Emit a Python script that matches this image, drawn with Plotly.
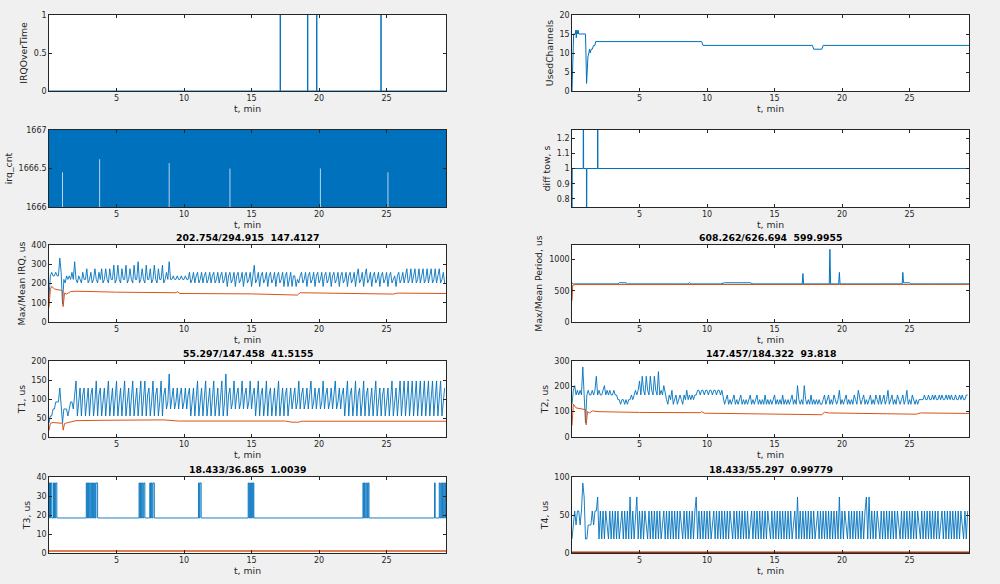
import plotly.graph_objects as go

BLUE = "#0072BD"
ORANGE = "#D95319"
TICK_US = 18.4327      # one timer tick, us
STEP_MIN = 0.1         # grid step of the resampled series, min
SAMPLE_MIN = 1.0 / 60  # one-second sample, min
T_END = 29.4


def ints(s):
    return [int(v) for v in s.split()]


# ---------------- data ----------------
x_ticks = [5, 10, 15, 20, 25]

irq_over_events = [17.12, 19.15, 19.82, 24.58]

irq_cnt_levels = [1666, 1667]
irq_cnt_gap_t = [1.0, 3.75, 8.9, 13.4, 20.1, 25.1]
irq_cnt_gap_top = [1666.45, 1666.62, 1666.57, 1666.5, 1666.5, 1666.45]

used_t = [0.0, 0.05, 0.12, 0.25, 0.28, 0.32, 0.36, 0.40, 0.45, 0.5,
          1.0, 1.08, 1.18, 1.25, 1.3, 1.35, 1.42, 1.5, 1.6, 1.7,
          1.75, 9.6, 9.7, 17.8, 17.9, 18.5, 18.6, 29.4]
used_v = [0, 8, 15, 15, 16, 14, 16, 15, 16, 15,
          15, 2, 9, 10, 11, 10, 11, 11, 12, 12,
          13, 13, 12, 12, 11, 11, 12, 12]

difftow_t = [0.0, 0.02, 0.83, 0.84, 0.86, 1.07, 1.08, 1.10, 1.89, 1.90, 1.92, 29.4]
difftow_v = [0.5, 1.0, 1.0, 2.0, 1.0, 1.0, 0.0, 1.0, 1.0, 2.0, 1.0, 1.0]

maxirq_q = ints("""
7 13 14 13 13 14 13 13 18 14
5 12 11 13 12 13 12 14 12 17
12 11 13 12 11 14 12 12 15 11
12 14 11 12 15 12 11 14 12 15
11 12 15 12 11 15 12 12 16 11
12 16 12 11 15 12 12 16 11 12
15 12 11 16 12 12 17 11 12 15
12 11 16 12 12 15 11 12 16 12
11 15 12 12 16 11 12 14 12 17
12 12 13 12 12 13 12 12 13 12
12 13 12 12 14 11 12 14 11 13
14 11 12 14 11 13 14 11 12 14
11 13 14 11 12 14 11 13 14 11
12 14 10 13 14 11 12 14 10 13
14 11 12 14 10 13 14 11 12 14
10 13 16 11 12 14 10 13 14 11
12 14 10 13 14 11 12 14 10 13
14 11 12 14 10 13 14 10 12 14
10 13 13 10 12 11 13 14 11 12
14 10 13 14 11 12 14 10 13 14
11 12 14 10 13 14 11 12 14 10
13 14 11 12 14 10 13 14 11 12
14 10 13 14 11 12 14 10 13 15
11 12 14 10 13 15 11 12 14 10
13 14 11 12 14 10 13 14 11 12
14 10 13 14 11 12 13 10 13 14
11 12 14 11 13 15 11 12 15 11
13 15 11 12 15 11 13 15 11 12
15 11 13 15 11 12 15 11 13 15
11 12 14 11
""")
maxirq_mean_t = [0.0, 0.1, 0.2, 0.4, 0.6, 0.9, 1.0, 1.05, 1.15, 1.3, 1.6, 2.0,
                 5.0, 9.4, 9.5, 9.7, 15.0, 18.0, 18.4, 18.6, 20.0, 25.5, 25.8, 29.4]
maxirq_mean_v = [75, 170, 185, 172, 168, 165, 160, 80, 150, 145, 158, 160,
                 155, 152, 157, 148, 146, 140, 140, 152, 150, 145, 150, 148]

period_t = [0.0, 0.1, 3.4, 3.5, 4.0, 4.1, 8.6, 8.7, 8.8, 11.0, 11.3, 13.2, 13.4,
            17.05, 17.1, 17.15, 19.05, 19.1, 19.15, 19.75, 19.8, 19.85,
            24.45, 24.5, 24.55, 24.6, 25.0, 25.1, 29.4]
period_q = [34, 33, 33, 34, 34, 33, 33, 34, 33, 33, 34, 34, 33,
            33, 42, 33, 33, 63, 33, 33, 43, 33,
            33, 43, 34, 34, 34, 33, 33]
period_mean_t = [0.0, 0.05, 0.3, 29.4]
period_mean_v = [340, 590, 598, 600]

t1_q = ints("""
2 3 3 4 4 5 5 5 7 5
2 4 4 4 3 4 5 5 4 6
8 3 5 7 3 6 7 3 5 7
3 6 7 3 5 8 3 6 7 3
5 7 3 6 8 3 5 7 3 6
8 3 5 7 3 6 8 3 5 7
3 6 8 3 5 7 3 6 8 3
5 8 3 6 7 3 5 8 3 6
7 3 5 8 3 6 7 4 5 9
4 6 7 4 5 7 4 6 7 4
5 7 4 6 7 3 5 7 3 6
8 3 5 7 3 6 8 3 5 7
3 6 8 3 5 7 3 6 8 3
5 9 3 6 7 4 5 8 4 6
7 4 5 8 4 6 7 4 5 8
4 6 7 3 5 8 3 6 7 3
5 8 3 6 7 3 5 7 3 6
8 3 5 7 3 6 7 3 5 7
4 6 7 4 5 8 4 6 7 4
5 7 4 6 8 4 5 7 4 6
7 4 5 8 4 6 7 4 5 7
4 6 8 4 5 7 4 6 7 3
5 8 3 6 7 3 5 8 3 6
7 3 5 8 3 6 7 3 5 7
3 6 8 3 5 7 3 6 7 3
5 7 3 6 8 3 5 7 3 6
8 3 5 8 3 6 8 3 5 8
3 6 8 3 5 8 3 6 8 3
5 8 3 6 8 3 5 8 3 6
8 3 5 7
""")
t1_mean_t = [0.0, 0.1, 0.3, 0.9, 1.0, 1.05, 1.15, 1.3, 1.6, 2.0, 4.0, 8.5, 9.6,
             10.0, 17.5, 18.0, 18.5, 18.7, 25.0, 29.4]
t1_mean_v = [17, 36, 38, 37, 36, 18, 35, 37, 40, 43, 44, 45, 42,
             42, 42, 39, 39, 41.5, 41.5, 41.5]

t2_q = ints("""
7 10 11 9 10 9 10 9 15 10
3 9 10 9 9 10 9 10 13 9
10 9 9 10 11 9 10 9 10 9
9 10 9 9 8 8 7 8 8 7
8 7 8 8 9 8 9 10 9 10
12 9 13 10 9 13 10 9 13 10
9 13 10 9 14 9 10 9 11 9
8 7 9 8 10 7 8 9 7 8
9 8 7 9 8 10 8 9 8 9
8 9 9 10 10 9 10 10 9 10
10 9 10 10 9 10 10 9 10 10
9 10 8 7 8 9 7 8 7 8
9 7 8 7 8 9 7 8 7 8
7 8 9 7 8 7 8 9 7 8
7 8 7 9 7 8 7 8 7 8
9 7 8 7 8 7 9 7 8 7
8 7 8 9 7 8 7 11 8 7
8 7 11 8 7 8 7 9 7 8
7 8 7 8 7 7 8 9 7 8
9 7 8 7 9 8 7 8 10 7
8 7 8 9 7 8 7 8 7 9
8 7 10 8 7 8 9 7 8 7
8 9 7 8 7 9 8 7 9 7
8 9 7 8 10 7 8 9 7 8
7 9 8 7 8 9 7 8 10 7
8 7 9 8 7 8 7 8 8 8
8 9 8 8 9 8 8 9 8 9
8 8 9 8 9 8 8 9 8 9
8 9 8 8 9 8 8 9 8 9
8 8 9 9
""")
t2_mean_t = [0.0, 0.1, 0.3, 0.8, 1.0, 1.05, 1.15, 1.3, 1.5, 2.0, 5.0, 9.5, 9.6, 9.8,
             15.0, 18.5, 18.7, 19.0, 25.5, 25.8, 29.4]
t2_mean_v = [45, 130, 115, 110, 108, 48, 100, 95, 103, 100, 97, 96, 100, 94,
             92, 88, 98, 95, 90, 95, 93]

t3_t = [0.00, 0.04, 0.07, 0.11, 0.14, 0.21,
        0.32, 0.36, 0.40, 0.45, 0.50, 0.58,
        2.76, 2.81, 2.86, 2.92, 2.98, 3.04, 3.10, 3.16, 3.22, 3.30,
        3.38, 3.43, 3.48, 3.60,
        6.67, 6.72, 6.78, 6.84, 6.90, 6.96, 7.02, 7.10,
        7.46, 7.52, 7.58, 7.64, 7.70, 7.80,
        11.07, 11.13, 11.18, 11.27,
        14.75, 14.80, 14.86, 14.92, 15.00, 15.08, 15.12, 15.17,
        23.25, 23.30, 23.36, 23.42, 23.50, 23.58, 23.64, 23.70,
        28.55, 28.60,
        28.90, 28.96, 29.02, 29.08, 29.14, 29.20, 29.26, 29.32, 29.36, 29.40]
t3_q = [2, 1, 2, 1, 2, 1,
        2, 1, 2, 1, 2, 1,
        2, 1, 2, 1, 2, 1, 2, 1, 2, 1,
        2, 1, 2, 1,
        2, 1, 2, 1, 2, 1, 2, 1,
        2, 1, 2, 1, 2, 1,
        2, 1, 2, 1,
        2, 1, 2, 1, 2, 1, 2, 1,
        2, 1, 2, 1, 2, 1, 2, 1,
        2, 1,
        2, 1, 2, 1, 2, 1, 2, 1, 2, 2]
t3_mean_t = [0.0, 29.4]
t3_mean_v = [1.0, 1.0]

t4_q = ints("""
1 2 3 2 3 3 2 3 5 4
1 1 2 2 2 3 2 3 3 4
1 3 1 3 1 3 2 1 3 1
3 1 3 1 3 1 2 3 1 3
1 3 1 4 1 3 1 3 4 1
3 1 3 1 3 2 1 3 1 3
1 3 1 3 1 3 1 2 3 1
3 1 3 1 3 1 3 1 3 1
3 2 1 3 1 3 1 3 1 3
1 3 4 1 3 1 3 1 3 1
3 1 3 1 2 3 1 3 1 3
1 3 1 3 1 3 1 3 2 1
3 1 3 1 3 1 3 1 3 1
3 1 2 3 1 3 1 3 1 3
1 3 1 3 1 3 2 1 3 1
3 1 3 1 3 1 3 1 3 1
3 1 3 1 2 3 1 4 1 3
1 3 1 3 1 3 1 3 1 3
1 2 3 1 3 1 3 1 3 1
3 1 3 1 3 1 3 1 4 1
3 1 3 2 1 3 1 3 1 3
1 3 1 3 1 3 1 3 4 1
4 1 3 1 3 1 3 2 1 3
1 3 1 3 1 3 1 3 1 3
1 3 2 1 3 1 3 1 3 1
3 1 3 1 3 1 3 2 1 3
1 3 1 3 1 3 1 3 1 3
1 3 1 2 3 1 3 1 3 1
3 1 3 1 3 1 3 1 3 2
1 3 1 3
""")
t4_mean_t = [0.0, 29.4]
t4_mean_v = [1.0, 1.0]

titles = {
    5: "202.754/294.915\u00a0 147.4127",
    6: "608.262/626.694\u00a0 599.9955",
    7: "55.297/147.458\u00a0 41.5155",
    8: "147.457/184.322\u00a0 93.818",
    9: "18.433/36.865\u00a0 1.0039",
    10: "18.433/55.297\u00a0 0.99779",
}
y_titles = {1: "IRQOverTime", 2: "UsedChannels", 3: "irq_cnt", 4: "diff tow, s",
            5: "Max/Mean IRQ, us", 6: "Max/Mean Period, us", 7: "T1, us",
            8: "T2, us", 9: "T3, us", 10: "T4, us"}
y_ranges = {1: [0, 1], 2: [0, 20], 3: [1666, 1667], 4: [0.747, 1.253],
            5: [0, 400], 6: [0, 1230], 7: [0, 200], 8: [0, 300], 9: [0, 40], 10: [0, 100]}
y_ticks = {1: [0, 0.5, 1], 2: [0, 5, 10, 15, 20], 3: [1666, 1666.5, 1667],
           4: [0.8, 0.9, 1, 1.1, 1.2], 5: [0, 100, 200, 300, 400], 6: [0, 500, 1000],
           7: [0, 50, 100, 150, 200], 8: [0, 100, 200, 300], 9: [0, 10, 20, 30, 40],
           10: [0, 50, 100]}


# ---------------- helpers ----------------
def grid(values):
    return [round(i * STEP_MIN, 3) for i in range(len(values))]


def us(q):
    return [v * TICK_US for v in q]


fig = go.Figure()


def line(k, x, y, color=BLUE, width=1.0, shape="linear", **kw):
    sfx = "" if k == 1 else str(k)
    fig.add_trace(go.Scatter(x=x, y=y, mode="lines", xaxis="x" + sfx, yaxis="y" + sfx,
                             line=dict(color=color, width=width, shape=shape),
                             showlegend=False, hoverinfo="skip", **kw))


# 1 IRQOverTime
ox, oy = [0.0], [0]
for e in irq_over_events:
    ox += [e, e, e + SAMPLE_MIN, e + SAMPLE_MIN]
    oy += [0, 1, 1, 0]
ox.append(T_END)
oy.append(0)
line(1, ox, oy)

# 2 UsedChannels
line(2, used_t, used_v)

# 3 irq_cnt : dense toggling between the two levels, shown as a solid band
line(3, [0, T_END], [irq_cnt_levels[0]] * 2, width=0)
line(3, [0, T_END], [irq_cnt_levels[1]] * 2, width=0, fill="tonexty", fillcolor=BLUE)
gx, gy = [], []
for t, top in zip(irq_cnt_gap_t, irq_cnt_gap_top):
    gx += [t, t, None]
    gy += [irq_cnt_levels[0], top, None]
line(3, gx, gy, color="rgba(200,222,242,0.9)", width=1)

# 4 diff tow
line(4, difftow_t, difftow_v)

# 5 Max/Mean IRQ
line(5, grid(maxirq_q), us(maxirq_q), width=0.9)
line(5, maxirq_mean_t, maxirq_mean_v, color=ORANGE)

# 6 Period
line(6, period_t, us(period_q))
line(6, period_mean_t, period_mean_v, color=ORANGE)

# 7 T1
line(7, grid(t1_q), us(t1_q), width=0.9)
line(7, t1_mean_t, t1_mean_v, color=ORANGE)

# 8 T2
line(8, grid(t2_q), us(t2_q), width=0.9)
line(8, t2_mean_t, t2_mean_v, color=ORANGE)

# 9 T3
line(9, t3_t, us(t3_q), width=0.9, shape="hv")
line(9, t3_mean_t, t3_mean_v, color=ORANGE, width=1.5)

# 10 T4
line(10, grid(t4_q), us(t4_q), width=0.9)
line(10, t4_mean_t, t4_mean_v, color="#A0330F", width=1.5)

# ---------------- layout ----------------
H = 584
XDOM = [[0.049, 0.446], [0.572, 0.969]]
ROWS_PX = [(15, 91), (130, 207), (245, 322), (361, 437), (477, 553)]
YDOM = [[1 - b / H, 1 - t / H] for t, b in ROWS_PX]

AXC = "#262626"
tickfont = dict(family="DejaVu Sans", size=8, color=AXC)
labfont = dict(family="DejaVu Sans", size=9.3, color=AXC)

layout = dict(width=1000, height=584, paper_bgcolor="#f0f0f0", plot_bgcolor="white",
              margin=dict(l=0, r=0, t=0, b=0, autoexpand=False), showlegend=False,
              font=dict(family="DejaVu Sans", color=AXC))
annotations = []
for k in range(1, 11):
    sfx = "" if k == 1 else str(k)
    col = (k - 1) % 2
    row = (k - 1) // 2
    common = dict(showgrid=False, zeroline=False, showline=True, linecolor=AXC,
                  linewidth=0.6, mirror="ticks", ticks="inside", ticklen=3,
                  tickwidth=0.6, tickcolor=AXC, tickfont=tickfont, automargin=False)
    layout["xaxis" + sfx] = dict(domain=XDOM[col], anchor="y" + sfx, range=[0, T_END],
                                 tickmode="array", tickvals=x_ticks,
                                 ticktext=[f"{v:g}" for v in x_ticks],
                                 title=dict(text="t, min", font=labfont, standoff=3),
                                 **common)
    layout["yaxis" + sfx] = dict(domain=YDOM[row], anchor="x" + sfx, range=y_ranges[k],
                                 tickmode="array", tickvals=y_ticks[k],
                                 ticktext=[f"{v:g}" for v in y_ticks[k]],
                                 title=dict(text=y_titles[k], font=labfont, standoff=4),
                                 **common)
    if k in titles:
        annotations.append(dict(text="<b>" + titles[k] + "</b>", xref="paper", yref="paper",
                                x=sum(XDOM[col]) / 2, y=YDOM[row][1], xanchor="center",
                                yanchor="bottom", yshift=0, showarrow=False,
                                font=dict(family="DejaVu Sans", size=9.3, color="black")))
layout["annotations"] = annotations
fig.update_layout(**layout)
fig.write_html("out.html",
               config={"displayModeBar": False},
               post_script="document.body.style.margin='0';"
                           "document.body.style.background='#f0f0f0';")
